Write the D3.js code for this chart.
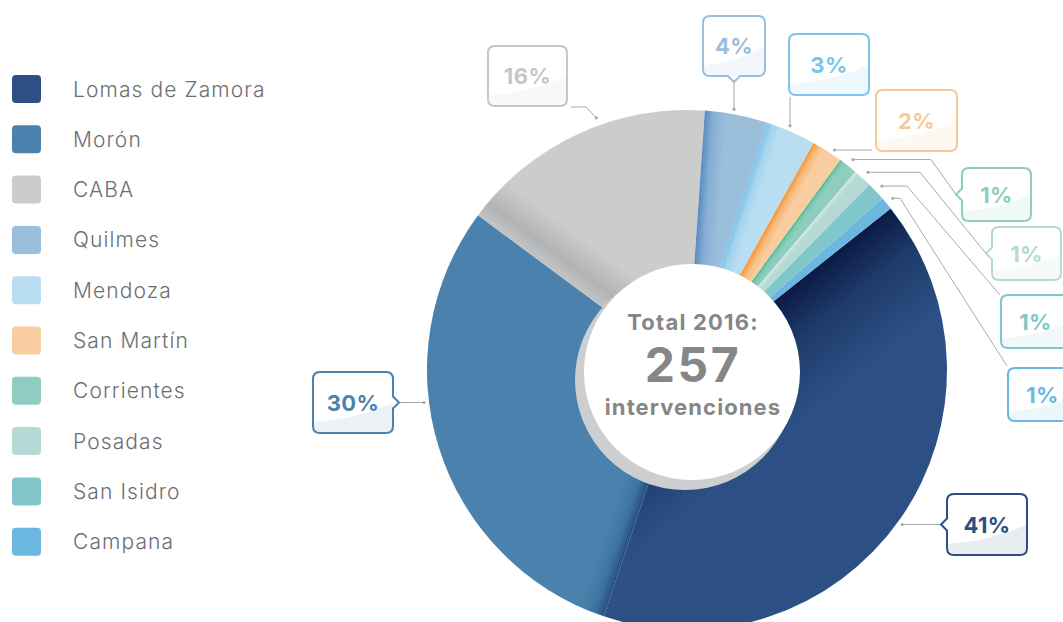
<!DOCTYPE html>
<html>
<head>
<meta charset="utf-8">
<script src="https://cdn.jsdelivr.net/npm/d3@7"></script>
<style>
  html, body { margin: 0; padding: 0; background: #fff; }
  svg { display: block; font-family: Inter, "Open Sans", sans-serif; }
</style>
</head>
<body>
<svg id="chart" width="1063" height="622"></svg>
<script>
// Intervenciones 2016 por sede.
var categories = [ 'Lomas de Zamora', 'Morón', 'CABA', 'Quilmes', 'Mendoza', 'San Martín', 'Corrientes', 'Posadas', 'San Isidro', 'Campana' ];
var counts = [ 105, 77, 41, 10, 8, 5, 3, 3, 3, 2 ];
var totalLabel = [ 'Total 2016:', '257', 'intervenciones' ];

// Styles, one per category.
var colors = [ '#2c5083', '#4a82ad', '#cccccc', '#9bbedb', '#b9def2', '#f9cda0', '#8ecdc0', '#b5d9d4', '#80c6cb', '#6bb7df' ];
var labelColors = [ '#2c5083', '#4a82ad', '#c6c6c6', '#9bbedb', '#7cc4ea', '#f9c89a', '#8ecdc0', '#b5d9d4', '#80c6cb', '#6bb7df' ];
// Shading along the start edge of each slice: [ edge colour, mid colour, width ].
var shades = [
	[ '#0c1a45', '#1d3a6a', 110 ],
	[ '#274f80', '#3e73a0', 26 ],
	[ '#c4c4c4', '#b2b3b5', 44 ],
	[ '#5a8cc0', '#86afd3', 22 ],
	[ '#7ec1e8', '#a6d4ef', 16 ],
	[ '#f7922e', '#f8b777', 12 ],
	[ '#3dba8a', '#7cc7b0', 6 ],
	[ '#d6ebe7', '#c2e0dc', 5 ],
	[ '#80c6cb', '#80c6cb', 2 ],
	[ '#6bb7df', '#6bb7df', 2 ]
];

// Callout boxes: [ x, y, w, h ], notch side, leader.
var callouts = [
	{ box: [ 947, 494, 80, 61 ], notch: 'left', lead: 'h' },
	{ box: [ 313, 372, 80, 61 ], notch: 'right', lead: 'h' },
	{ box: [ 488, 46, 79, 60 ], notch: null, lead: 'a', da: 5, via: [ [ 586, 107 ], [ 571, 107 ] ] },
	{ box: [ 703, 16, 62, 60 ], notch: 'bottom', lead: 'v' },
	{ box: [ 789, 34, 80, 61 ], notch: null, lead: 'v', x: 790, endY: 97 },
	{ box: [ 876, 90, 81, 61 ], notch: null, lead: 'h', y: 150, endX: 872 },
	{ box: [ 962, 168, 69, 53 ], notch: 'left', lead: 'a', elbow: 931 },
	{ box: [ 992, 227, 69, 53 ], notch: 'left', lead: 'a', elbow: 920 },
	{ box: [ 1001, 295, 69, 53 ], notch: null, lead: 'a', elbow: 907, end: [ 1000, 295 ] },
	{ box: [ 1008, 368, 69, 53 ], notch: null, lead: 'a', elbow: 900, end: [ 1007, 366 ] }
];

var cx = 687, cy = 370, R = 260;
var svg = d3.select( '#chart' );
var defs = svg.append( 'defs' );

var total = d3.sum( counts );
var data = categories.map( function ( c, i ) { return { name: c, value: counts[i], i: i }; } );

// Pie, clockwise from the start of Lomas de Zamora.
var start = 0.9;
var pie = d3.pie().sort( null ).value( function ( d ) { return d.value; } )
	.startAngle( start ).endAngle( start + 2 * Math.PI );
var arcs = pie( data );
var arc = d3.arc().innerRadius( 0 ).outerRadius( R );

var g = svg.append( 'g' ).attr( 'transform', 'translate(' + cx + ',' + cy + ')' );

arcs.forEach( function ( a ) {
	var s = shades[a.data.i];
	var ang = a.startAngle;
	var grad = defs.append( 'linearGradient' )
		.attr( 'id', 'shade' + a.data.i )
		.attr( 'gradientUnits', 'userSpaceOnUse' )
		.attr( 'x1', 0 ).attr( 'y1', 0 )
		.attr( 'x2', s[2] * Math.cos( ang ) ).attr( 'y2', s[2] * Math.sin( ang ) );
	grad.append( 'stop' ).attr( 'offset', 0 ).attr( 'stop-color', s[0] );
	grad.append( 'stop' ).attr( 'offset', a.data.i === 2 ? 0.35 : 0.4 ).attr( 'stop-color', s[1] );
	grad.append( 'stop' ).attr( 'offset', 1 ).attr( 'stop-color', colors[a.data.i] );
} );

g.selectAll( 'path.slice' )
	.data( arcs )
	.enter()
	.append( 'path' )
	.attr( 'class', 'slice' )
	.attr( 'd', arc )
	.attr( 'fill', function ( d ) { return 'url(#shade' + d.data.i + ')'; } );

// Centre disc with its grey shadow.
g.append( 'circle' ).attr( 'cx', -2 ).attr( 'cy', 10 ).attr( 'r', 110 ).attr( 'fill', '#cdced0' );
g.append( 'circle' ).attr( 'cx', 5 ).attr( 'cy', 2 ).attr( 'r', 108 ).attr( 'fill', '#ffffff' );

var centre = g.append( 'g' ).attr( 'fill', '#858786' ).attr( 'font-weight', 700 ).attr( 'text-anchor', 'middle' );
centre.append( 'text' ).attr( 'x', 6 ).attr( 'y', -40 ).attr( 'font-size', 22 ).attr( 'letter-spacing', 1.2 ).text( totalLabel[0] );
centre.append( 'text' ).attr( 'x', 6 ).attr( 'y', 12 ).attr( 'font-size', 48 ).attr( 'letter-spacing', 2.5 ).text( totalLabel[1] );
centre.append( 'text' ).attr( 'x', 6 ).attr( 'y', 45 ).attr( 'font-size', 22 ).attr( 'letter-spacing', 1.1 ).text( totalLabel[2] );

// Legend.
var legend = svg.append( 'g' ).attr( 'transform', 'translate(12,75)' );
var item = legend.selectAll( 'g' )
	.data( categories )
	.enter()
	.append( 'g' )
	.attr( 'transform', function ( d, i ) { return 'translate(0,' + ( i * 50.3 ) + ')'; } );
item.append( 'rect' )
	.attr( 'width', 29 ).attr( 'height', 28 ).attr( 'rx', 4 )
	.attr( 'fill', function ( d, i ) { return colors[i]; } );
item.append( 'text' )
	.attr( 'x', 61 ).attr( 'y', 21.5 )
	.attr( 'font-size', 21 ).attr( 'font-weight', 300 ).attr( 'letter-spacing', 1.1 )
	.attr( 'fill', '#6d6e71' )
	.text( function ( d ) { return d; } );

// Box outline with an optional notch on one side.
var boxPath = function ( w, h, notch ) {
	var r = 7, n = 6, k = 6;
	var p = d3.path();
	p.moveTo( r, 0 );
	p.lineTo( w - r, 0 );
	p.quadraticCurveTo( w, 0, w, r );
	if ( notch === 'right' ) {
		p.lineTo( w, h / 2 - k ); p.lineTo( w + n, h / 2 ); p.lineTo( w, h / 2 + k );
	}
	p.lineTo( w, h - r );
	p.quadraticCurveTo( w, h, w - r, h );
	if ( notch === 'bottom' ) {
		p.lineTo( w / 2 + k, h ); p.lineTo( w / 2, h + n ); p.lineTo( w / 2 - k, h );
	}
	p.lineTo( r, h );
	p.quadraticCurveTo( 0, h, 0, h - r );
	if ( notch === 'left' ) {
		p.lineTo( 0, h / 2 + k ); p.lineTo( -n, h / 2 ); p.lineTo( 0, h / 2 - k );
	}
	p.lineTo( 0, r );
	p.quadraticCurveTo( 0, 0, r, 0 );
	p.closePath();
	return p.toString();
};

var onCircle = function ( ang, rad ) {
	return [ cx + rad * Math.sin( ang ), cy - rad * Math.cos( ang ) ];
};

var leaders = svg.append( 'g' );
var boxes = svg.append( 'g' );

arcs.forEach( function ( a ) {
	var i = a.data.i;
	var c = callouts[i];
	var bx = c.box[0], by = c.box[1], bw = c.box[2], bh = c.box[3];
	var tip;
	if ( c.notch === 'left' ) tip = [ bx - 6, by + bh / 2 ];
	else if ( c.notch === 'right' ) tip = [ bx + bw + 6, by + bh / 2 ];
	else if ( c.notch === 'bottom' ) tip = [ bx + bw / 2, by + bh + 6 ];

	var pts = [];
	var rr = R + 5;
	if ( c.lead === 'h' ) {
		var y = c.y !== undefined ? c.y : tip[1];
		var dx = Math.sqrt( rr * rr - ( y - cy ) * ( y - cy ) );
		var endX = c.endX !== undefined ? c.endX : tip[0];
		pts = [ [ endX < cx ? cx - dx : cx + dx, y ], [ endX, y ] ];
	} else if ( c.lead === 'v' ) {
		var x = c.x !== undefined ? c.x : tip[0];
		var dy = Math.sqrt( rr * rr - ( x - cx ) * ( x - cx ) );
		pts = [ [ x, cy - dy ], [ x, c.endY !== undefined ? c.endY : tip[1] ] ];
	} else {
		var mid = ( a.startAngle + a.endAngle ) / 2 + ( c.da || 0 ) * Math.PI / 180;
		var s0 = onCircle( mid, R + 8 );
		pts = [ s0 ];
		if ( c.via ) pts = pts.concat( c.via );
		if ( c.elbow ) pts.push( [ c.elbow, s0[1] ] );
		if ( c.end ) pts.push( c.end );
		else if ( tip ) pts.push( tip );
	}

	leaders.append( 'path' )
		.attr( 'd', d3.line()( pts ) )
		.attr( 'fill', 'none' )
		.attr( 'stroke', '#a7a9ac' )
		.attr( 'stroke-width', 1 );
	leaders.append( 'circle' )
		.attr( 'cx', pts[0][0] ).attr( 'cy', pts[0][1] ).attr( 'r', 1.6 )
		.attr( 'fill', '#a7a9ac' );

	// The box itself, with the pale swoosh along its bottom.
	var bg = boxes.append( 'g' ).attr( 'transform', 'translate(' + bx + ',' + by + ')' );
	var clipId = 'clip' + i;
	defs.append( 'clipPath' ).attr( 'id', clipId )
		.append( 'path' ).attr( 'd', boxPath( bw, bh, c.notch ) );
	bg.append( 'path' ).attr( 'd', boxPath( bw, bh, c.notch ) ).attr( 'fill', '#ffffff' );
	bg.append( 'path' )
		.attr( 'clip-path', 'url(#' + clipId + ')' )
		.attr( 'd', 'M0,' + bh + 'L0,' + ( bh * 0.82 ) + 'Q' + ( bw * 0.55 ) + ',' + ( bh * 0.78 ) + ' ' + bw + ',' + ( bh * 0.5 ) + 'L' + bw + ',' + bh + 'Z' )
		.attr( 'fill', labelColors[i] )
		.attr( 'fill-opacity', i === 0 || i === 1 ? 0.1 : 0.12 );
	bg.append( 'path' ).attr( 'd', boxPath( bw, bh, c.notch ) )
		.attr( 'fill', 'none' )
		.attr( 'stroke', labelColors[i] )
		.attr( 'stroke-width', 2 );
	bg.append( 'text' )
		.attr( 'x', bw / 2 ).attr( 'y', bh / 2 + 8 )
		.attr( 'text-anchor', 'middle' )
		.attr( 'font-size', 22 ).attr( 'font-weight', 700 ).attr( 'letter-spacing', 0.4 )
		.attr( 'fill', labelColors[i] )
		.text( Math.round( a.data.value / total * 100 ) + '%' );
} );
</script>
</body>
</html>
